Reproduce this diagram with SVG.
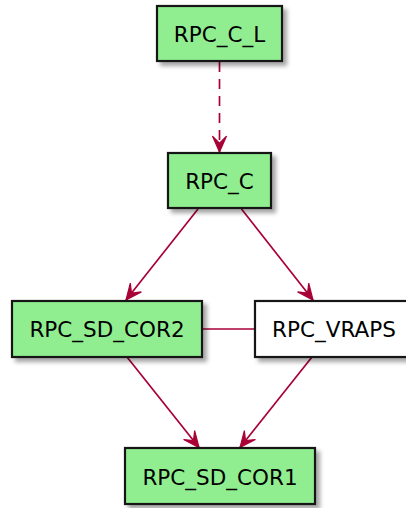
<svg xmlns="http://www.w3.org/2000/svg" width="406" height="508" viewBox="0 0 406 508">
<style>
.box{stroke:#181818;stroke-width:2.2;filter:url(#sh)}
.g{fill:#90EE90}
.w{fill:#FFFFFF}
.t{font-family:"DejaVu Sans",sans-serif;font-size:21.5px;fill:#000;text-anchor:middle}
.e{stroke:#A80036;stroke-width:1.7;fill:none}
</style>
<defs>
<filter id="sh" x="-20%" y="-20%" width="150%" height="160%">
<feDropShadow dx="4" dy="4" stdDeviation="2.2" flood-color="#000" flood-opacity="0.35"/>
</filter>
<marker id="ah" markerUnits="userSpaceOnUse" markerWidth="20" markerHeight="20" refX="0" refY="0" viewBox="-15 -8 17 16" orient="auto" overflow="visible">
<path d="M0,0 L-13.5,-6 L-7.5,0 L-13.5,6 Z" fill="#A80036" stroke="#A80036" stroke-width="1"/>
</marker>
</defs>
<g id="connectors">
<line class="e" x1="219.5" y1="62" x2="219.5" y2="152" stroke-dasharray="10,7" marker-end="url(#ah)"/>
<line class="e" x1="198" y1="209" x2="126" y2="300" marker-end="url(#ah)"/>
<line class="e" x1="241.5" y1="209" x2="313" y2="300" marker-end="url(#ah)"/>
<line class="e" x1="202" y1="329" x2="255" y2="329"/>
<line class="e" x1="127" y1="357" x2="199" y2="447.5" marker-end="url(#ah)"/>
<line class="e" x1="312" y1="357" x2="240" y2="447.5" marker-end="url(#ah)"/>
</g>
<g id="RPC_C_L">
<rect class="box g" x="157" y="6" width="125" height="55"/>
<text class="t" x="219.5" y="41.5">RPC_C_L</text>
</g>
<g id="RPC_C">
<rect class="box g" x="168" y="153" width="103" height="55"/>
<text class="t" x="219.5" y="188.5">RPC_C</text>
</g>
<g id="RPC_SD_COR2">
<rect class="box g" x="12" y="301" width="190" height="56"/>
<text class="t" x="107" y="337">RPC_SD_COR2</text>
</g>
<g id="RPC_VRAPS">
<rect class="box w" x="255" y="301" width="158" height="56"/>
<text class="t" x="334" y="337">RPC_VRAPS</text>
</g>
<g id="RPC_SD_COR1">
<rect class="box g" x="125" y="448" width="190" height="56"/>
<text class="t" x="220" y="484.5">RPC_SD_COR1</text>
</g>
</svg>
